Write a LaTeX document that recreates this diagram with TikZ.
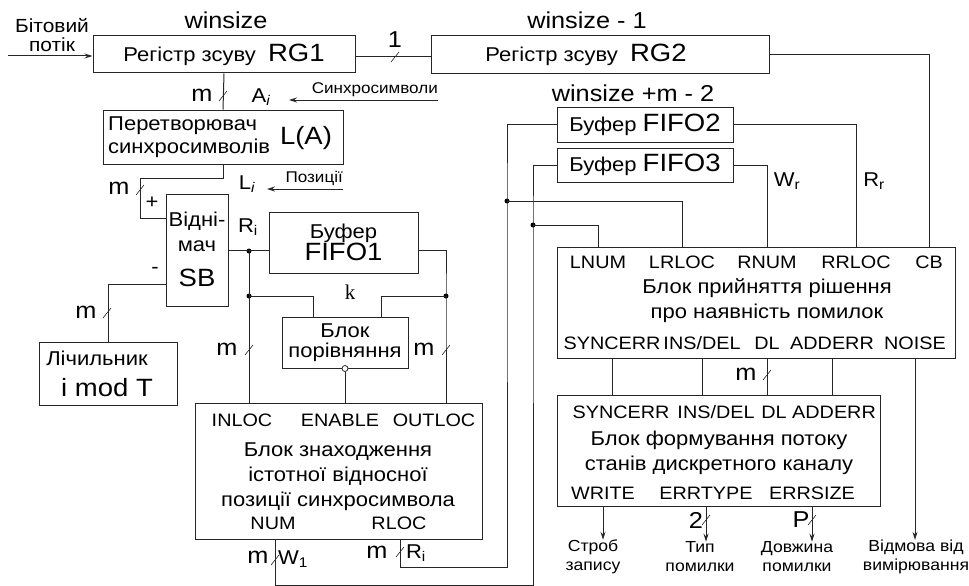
\documentclass[tikz,border=0pt]{standalone}
\usepackage{fontspec}
\setmainfont{Liberation Sans}[FakeStretch=1.1]
\newfontfamily\serifk{Liberation Serif}
\usepackage{tikz}
\usetikzlibrary{arrows.meta, positioning, calc}
\newcommand{\fmain}{\fontsize{20}{25}\selectfont}
\newcommand{\fport}{\fontsize{18}{21}\selectfont}
\newcommand{\fbig}{\fontsize{25}{27}\selectfont}
\newcommand{\fwin}{\fontsize{23}{25}\selectfont}
\newcommand{\fsmall}{\fontsize{15.5}{18}\selectfont}
\newcommand{\fout}{\fontsize{16}{19}\selectfont}
\tikzset{
    block/.style={rectangle, draw=black!85, line width=1pt, align=center, inner sep=0pt, font=\fmain},
    lbl/.style={inner sep=0pt, align=center, font=\fmain},
    port/.style={inner sep=0pt, font=\fport},
    buslbl/.style={inner sep=0pt, font=\fontsize{23}{25}\selectfont},
    wire/.style={line width=1pt, draw=black!85},
    arrow/.style={wire, -{Stealth[length=8pt, width=5pt]}},
    junction/.style={circle, fill=black, inner sep=0pt, minimum size=5pt},
    invert/.style={circle, draw=black!85, line width=0.8pt, fill=white, inner sep=0pt, minimum size=6pt}
}
\newcommand{\busmark}[1]{\draw[wire, line width=0.6pt] (#1) ++(-4,5) -- ++(8,-10);}

\begin{document}
\begin{tikzpicture}[x=1pt, y=-1pt]
    \useasboundingbox (0,0) rectangle (969,586);

    % registers
    \node[block, minimum width=262pt, minimum height=37pt] (rg1) at (224,54.5) {Регістр зсуву\ \ {\fbig RG1}};
    \node[block, minimum width=338pt, minimum height=38pt] (rg2) at (600,55) {};
    \node[lbl] (rg2txt) at (586,55) {Регістр зсуву\ \ {\fbig RG2}};
    \node[lbl, font=\fwin] (ws1) at (226,20) {winsize};
    \node[lbl, font=\fwin] (ws2) at (587,20) {winsize - 1};
    \node[lbl, font=\fwin] (ws3) at (633,93) {winsize +m - 2};
    \node[lbl, font=\fontsize{19}{19}\selectfont] (bitin) at (52,35) {Бітовий\\потік};
    \coordinate (inp) at (8,56);

    % left column
    \node[block, minimum width=240pt, minimum height=54pt] (la) at (223,137) {};
    \node[lbl, align=left, anchor=west] (latxt) at (108,137) {Перетворювач\\[-2pt]синхросимволів};
    \node[lbl, font=\fbig] (lalbl) at (306,138) {L(A)};
    \node[block, minimum width=62pt, minimum height=112pt] (sb) at (197,250) {};
    \node[lbl] (sbtxt) at (197,232) {Відні-\\мач};
    \node[lbl, font=\fbig] (sblbl) at (197,278) {SB};
    \node[block, minimum width=138pt, minimum height=63pt] (cnt) at (108,373.5) {};
    \node[lbl] (cnttxt) at (97,358) {Лічильник};
    \node[lbl, font=\fbig] (cntlbl) at (107,388) {i mod T};

    % buffer and comparator
    \node[block, minimum width=149pt, minimum height=61pt] (fifo1) at (343.5,242.5) {Буфер\\[-3pt]{\fbig FIFO1}};
    \node[block, minimum width=126pt, minimum height=51pt] (cmp) at (345,342.5) {Блок\\[-5pt]порівняння};
    \node[invert] (cmpinv) at (cmp.south) {};
    \node[block, minimum width=287pt, minimum height=136pt] (find) at (338.5,471) {};
    \node[port] (inloc) at (242,420) {INLOC};
    \node[port] (enable) at (340,420) {ENABLE};
    \node[port] (outloc) at (434,420) {OUTLOC};
    \node[lbl] (findtxt) at (338,477) {Блок знаходження\\істотної відносної\\позиції синхросимвола};
    \node[port] (num) at (273,523) {NUM};
    \node[port] (rloc) at (399,523) {RLOC};

    % right column
    \node[block, minimum width=176pt, minimum height=35pt] (fifo2) at (645,124.5) {Буфер\ {\fbig FIFO2}};
    \node[block, minimum width=176pt, minimum height=34pt] (fifo3) at (645,165) {Буфер\ {\fbig FIFO3}};
    \node[block, minimum width=398pt, minimum height=111pt] (dec) at (756,302.5) {};
    \node[port] (lnum) at (598,262) {LNUM};
    \node[port] (lrloc) at (682,262) {LRLOC};
    \node[port] (rnum) at (767,262) {RNUM};
    \node[port] (rrloc) at (856,262) {RRLOC};
    \node[port] (cb) at (929,262) {CB};
    \node[lbl] (dectxt) at (767,301) {Блок прийняття рішення\\про наявність помилок};
    \node[port] (syncerr) at (612,343) {SYNCERR};
    \node[port] (insdel) at (702,343) {INS/DEL};
    \node[port] (dl) at (767,343) {DL};
    \node[port] (adderr) at (832,343) {ADDERR};
    \node[port] (noise) at (915,343) {NOISE};
    \node[block, minimum width=323pt, minimum height=111pt] (form) at (718.5,450.5) {};
    \node[port] (fsyncerr) at (621,412) {SYNCERR};
    \node[port] (finsdel) at (716,412) {INS/DEL};
    \node[port] (fdl) at (774,412) {DL};
    \node[port] (fadderr) at (834,412) {ADDERR};
    \node[lbl] (formtxt) at (719,453) {Блок формування потоку\\станів дискретного каналу};
    \node[port] (write) at (603,493) {WRITE};
    \node[port] (errtype) at (706,493) {ERRTYPE};
    \node[port] (errsize) at (812,493) {ERRSIZE};
    \node[lbl, font=\fout] (strob) at (593,557) {Строб\\запису};
    \node[lbl, font=\fout] (typ) at (700,557) {Тип\\помилки};
    \node[lbl, font=\fout] (dovz) at (797,557) {Довжина\\помилки};
    \node[lbl, font=\fout] (vidm) at (916,557) {Відмова від\\вимірювання};

    % bus labels
    \node[buslbl] (n1) at (395,40) {1};
    \node[buslbl] (m1) at (202,95) {m};
    \node[lbl] (ai) at (261,97) {A\textsubscript{\itshape i}};
    \node[lbl, font=\fsmall, anchor=south east] (synctxt) at (438,97) {Синхросимволи};
    \coordinate (syncin) at (438,100);
    \coordinate (syncout) at (289,100);
    \node[lbl] (li) at (247,184) {L\textsubscript{\itshape i}};
    \node[lbl, font=\fsmall, anchor=south east] (postxt) at (343,186) {Позиції};
    \coordinate (posin) at (343,189);
    \coordinate (posout) at (267,189);
    \node[buslbl] (m2) at (119,188) {m};
    \node[lbl] (plus) at (152,203) {+};
    \node[lbl] (minus) at (155,270) {-};
    \node[lbl] (ri1) at (248,227) {R\textsubscript{i}};
    \node[buslbl] (m3) at (86,312) {m};
    \node[buslbl] (m4) at (227,349) {m};
    \node[buslbl] (m5) at (424,349) {m};
    \node[inner sep=0pt, font=\serifk\fontsize{21}{21}\selectfont] (kk) at (350,292) {k};
    \node[buslbl] (m6) at (258,557) {m};
    \node[lbl] (w1) at (293,559) {W\textsubscript{1}};
    \node[buslbl] (m7) at (377,552) {m};
    \node[lbl] (ri2) at (416,553) {R\textsubscript{i}};
    \node[lbl] (wr) at (787,181) {W\textsubscript{r}};
    \node[lbl] (rr) at (874,181) {R\textsubscript{r}};
    \node[buslbl] (m8) at (746,374) {m};
    \node[buslbl] (n2) at (696,520) {2};
    \node[buslbl] (np) at (801,520) {P};

    % junctions
    \node[junction] (j1) at (249,251) {};
    \node[junction] (j2) at (249,296) {};
    \node[junction] (j3) at (446,296) {};
    \node[junction] (j4) at (507,201) {};
    \node[junction] (j5) at (533,225) {};

    % connections
    \draw[arrow] (inp) -- (rg1.west |- inp);
    \draw[wire] (rg1.east |- 0,57) -- (rg2.west |- 0,57);
    \draw[wire] (rg1.south) -- (la.north);
    \draw[arrow] (syncin) -- (syncout);
    \draw[arrow] (posin) -- (posout);
    \draw[wire] (la.south) -- ++(0,14) -| (140,218) -- (sb.west |- 0,218);
    \draw[wire] (sb.west |- 0,284) -| (cnt.north);
    \draw[wire] (sb.east) -- (sb.east -| fifo1.west);
    \draw[wire] (fifo1.east |- sb.east) -| (j3.center) -- (j3 |- find.north);
    \draw[wire] (j1.center) -- (j1 |- find.north);
    \draw[wire] (j2.center) -| ([xshift=-32pt]cmp.north);
    \draw[wire] (j3.center) -| ([xshift=36pt]cmp.north);
    \draw[wire] (cmpinv.south) -- (cmpinv.south |- find.north);
    \draw[wire] (275,539) -- ++(0,46) -| (j5.center) |- (fifo3.west);
    \draw[wire] (400,539) -- ++(0,28) -| (j4.center) |- (fifo2.west);
    \draw[wire] (j4.center) -| (lrloc |- dec.north);
    \draw[wire] (j5.center) -| (lnum |- dec.north);
    \draw[wire] (fifo2.east) -| (rrloc |- dec.north);
    \draw[wire] (fifo3.east) -| (rnum |- dec.north);
    \draw[wire] (rg2.east) -| (cb |- dec.north);
    \foreach \p in {syncerr, insdel, dl, adderr}
        \draw[wire] (\p |- dec.south) -- (\p |- form.north);
    \draw[arrow] (noise |- dec.south) -- (noise |- vidm.north);
    \draw[arrow] (write |- form.south) -- (write |- strob.north);
    \draw[arrow] (errtype |- form.south) -- (errtype |- typ.north);
    \draw[arrow] (errsize |- form.south) -- (errsize |- dovz.north);

    % bus marks
    \busmark{395,57}
    \busmark{223,96}
    \busmark{140,190}
    \busmark{107,313}
    \busmark{249,350}
    \busmark{446,350}
    \busmark{275,560}
    \busmark{400,552}
    \busmark{767,375}
    \busmark{706,520}
    \busmark{812,520}
\end{tikzpicture}
\end{document}
